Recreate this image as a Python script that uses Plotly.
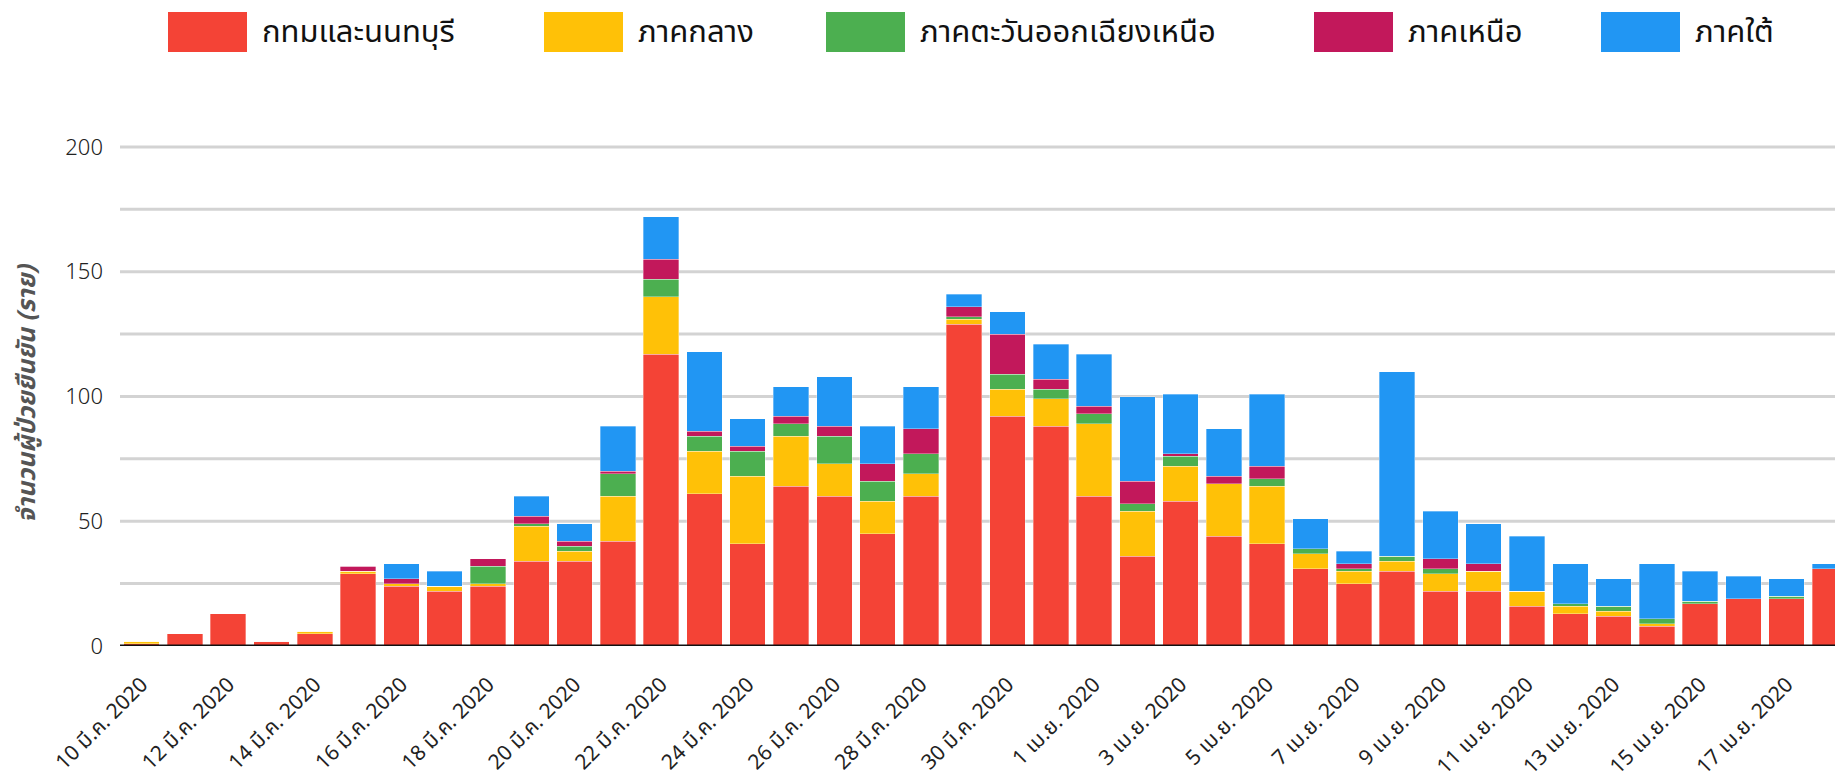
import plotly.graph_objects as go

# ---- data ----
dates = [
    "10 มี.ค. 2020", "11 มี.ค. 2020", "12 มี.ค. 2020", "13 มี.ค. 2020", "14 มี.ค. 2020",
    "15 มี.ค. 2020", "16 มี.ค. 2020", "17 มี.ค. 2020", "18 มี.ค. 2020", "19 มี.ค. 2020",
    "20 มี.ค. 2020", "21 มี.ค. 2020", "22 มี.ค. 2020", "23 มี.ค. 2020", "24 มี.ค. 2020",
    "25 มี.ค. 2020", "26 มี.ค. 2020", "27 มี.ค. 2020", "28 มี.ค. 2020", "29 มี.ค. 2020",
    "30 มี.ค. 2020", "31 มี.ค. 2020", "1 เม.ย. 2020", "2 เม.ย. 2020", "3 เม.ย. 2020",
    "4 เม.ย. 2020", "5 เม.ย. 2020", "6 เม.ย. 2020", "7 เม.ย. 2020", "8 เม.ย. 2020",
    "9 เม.ย. 2020", "10 เม.ย. 2020", "11 เม.ย. 2020", "12 เม.ย. 2020", "13 เม.ย. 2020",
    "14 เม.ย. 2020", "15 เม.ย. 2020", "16 เม.ย. 2020", "17 เม.ย. 2020", "18 เม.ย. 2020",
]
bangkok = [1, 5, 13, 2, 5, 29, 24, 22, 24, 34, 34, 42, 117, 61, 41, 64, 60, 45, 60, 129,
           92, 88, 60, 36, 58, 44, 41, 31, 25, 30, 22, 22, 16, 13, 12, 8, 17, 19, 19, 31]
central = [1, 0, 0, 0, 1, 1, 1, 2, 1, 14, 4, 18, 23, 17, 27, 20, 13, 13, 9, 2,
           11, 11, 29, 18, 14, 21, 23, 6, 5, 4, 7, 8, 6, 3, 2, 1, 0, 0, 0, 0]
northeast = [0, 0, 0, 0, 0, 0, 0, 0, 7, 1, 2, 9, 7, 6, 10, 5, 11, 8, 8, 1,
             6, 4, 4, 3, 4, 0, 3, 2, 1, 2, 2, 0, 0, 1, 2, 2, 1, 0, 1, 0]
north = [0, 0, 0, 0, 0, 2, 2, 0, 3, 3, 2, 1, 8, 2, 2, 3, 4, 7, 10, 4,
         16, 4, 3, 9, 1, 3, 5, 0, 2, 0, 4, 3, 0, 0, 0, 0, 0, 0, 0, 0]
south = [0, 0, 0, 0, 0, 0, 6, 6, 0, 8, 7, 18, 17, 32, 11, 12, 20, 15, 17, 5,
         9, 14, 21, 34, 24, 19, 29, 12, 5, 74, 19, 16, 22, 16, 11, 22, 12, 9, 7, 2]

series_names = ["กทมและนนทบุรี", "ภาคกลาง", "ภาคตะวันออกเฉียงเหนือ", "ภาคเหนือ", "ภาคใต้"]
series_values = [bangkok, central, northeast, north, south]
colors = ["#F44336", "#FFC107", "#4CAF50", "#C2185B", "#2196F3"]

tick_labels = dates[::2]

# ---- figure ----
# the page body has an 8px default margin, so the figure is offset by 8px
OFF = 8
W, H = 1843 - OFF, 784 - OFF
ML, MR, MT, MB = 120 - OFF, 0, 142 - OFF, 138
fig = go.Figure()
for name, vals, col in zip(series_names, series_values, colors):
    fig.add_trace(go.Bar(
        x=dates, y=vals, name=name,
        marker=dict(color=col, line=dict(width=0.6, color="rgba(255,255,255,0.55)")),
        showlegend=False,
    ))

thai_font = "Noto Sans Thai, Loma, Garuda, Tlwg Typo, Noto Sans, sans-serif"

fig.update_layout(
    width=W, height=H,
    barmode="stack", bargap=0.18,
    plot_bgcolor="white", paper_bgcolor="white",
    margin=dict(l=ML, r=MR, t=MT, b=MB),
    font=dict(family=thai_font, color="#222"),
    xaxis=dict(
        type="category", range=[-0.5, 39.3],
        tickmode="array", tickvals=tick_labels, ticktext=tick_labels,
        tickangle=-45, tickfont=dict(size=21, color="#222", family=thai_font),
        showgrid=False, showline=False, ticks="", ticklabelstandoff=21,
    ),
    yaxis=dict(
        range=[0, 202], tickvals=[0, 50, 100, 150, 200],
        tickfont=dict(size=22, color="#222", family=thai_font, weight=300),
        showgrid=False, zeroline=False, showline=False, ticks="",
        ticklabelstandoff=16,
        title=dict(text="<b><i>จำนวนผู้ป่วยยืนยัน (ราย)</i></b>",
                   font=dict(size=25, color="#555", family=thai_font), standoff=22),
    ),
)

# gridlines every 25 (drawn as shapes in y data coords)
grid_vals = [25, 50, 75, 100, 125, 150, 175, 200]
for g in grid_vals:
    fig.add_shape(type="line", xref="paper", yref="y", x0=0, x1=1, y0=g, y1=g,
                  line=dict(color="#D3D3D3", width=3), layer="below")
fig.add_shape(type="line", xref="paper", yref="y", x0=0, x1=1, y0=0, y1=0,
              line=dict(color="#111", width=3), layer="above")

# custom legend (large swatches); pixel positions are in page coordinates
pw = W - ML - MR
ph = H - MT - MB
def px_x(p):
    return (p - OFF - ML) / pw
def px_y(p):
    return (H - MB - (p - OFF)) / ph

legend_swatch_x = [168, 544, 826, 1314, 1601]
for name, col, sx in zip(series_names, colors, legend_swatch_x):
    fig.add_shape(type="rect", xref="paper", yref="paper",
                  x0=px_x(sx), x1=px_x(sx + 79), y0=px_y(52), y1=px_y(12),
                  fillcolor=col, line=dict(width=0))
    fig.add_annotation(xref="paper", yref="paper", x=px_x(sx + 92), y=px_y(32),
                       text=name, showarrow=False, xanchor="left", yanchor="middle",
                       font=dict(size=31, color="#111", family=thai_font))

fig.write_html("out.html")
